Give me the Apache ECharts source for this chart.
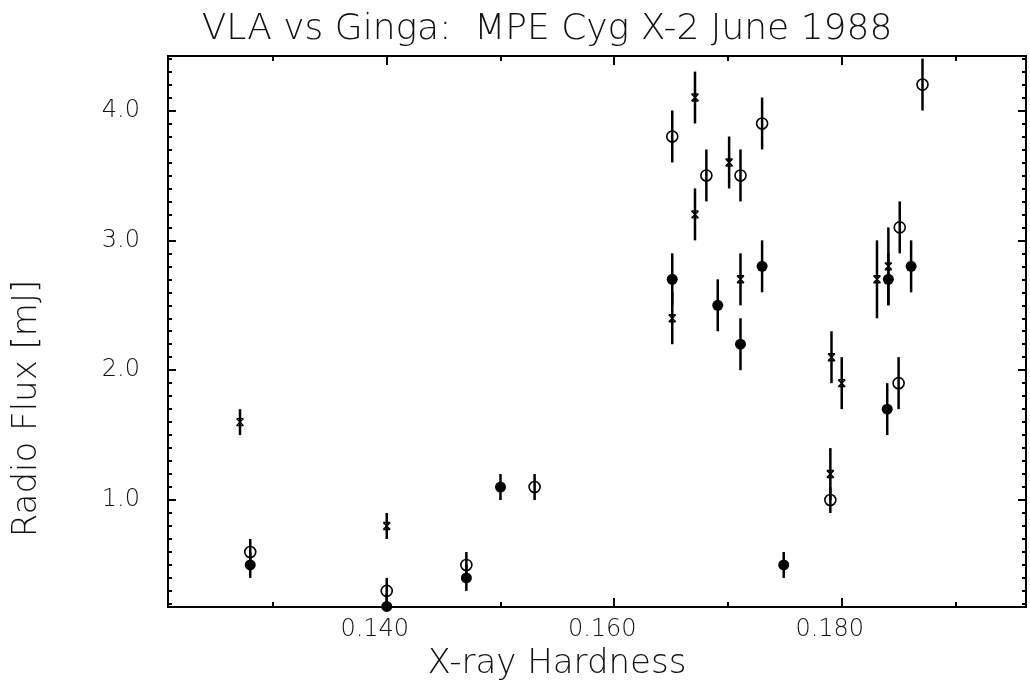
<!DOCTYPE html>
<html>
<head>
<meta charset="utf-8">
<script src="https://cdn.jsdelivr.net/npm/echarts@6/dist/echarts.min.js"></script>
<style>html,body{margin:0;padding:0;background:#fff}#c{width:1030px;height:683px}</style>
</head>
<body>
<div id="c"></div>
<script>
// Filled circles
const filledX = [0.1280, 0.1400, 0.1470, 0.1500, 0.1651, 0.1691, 0.1711, 0.1730, 0.1749, 0.1841, 0.1840, 0.1861];
const filledY = [0.5, 0.18, 0.4, 1.1, 2.7, 2.5, 2.2, 2.8, 0.5, 2.7, 1.7, 2.8];
const filledErr = [0.1, 0.1, 0.1, 0.1, 0.2, 0.2, 0.2, 0.2, 0.1, 0.2, 0.2, 0.2];
// Open circles
const openX = [0.1280, 0.1400, 0.1470, 0.1530, 0.1651, 0.1681, 0.1711, 0.1730, 0.1790, 0.1851, 0.1850, 0.1871];
const openY = [0.6, 0.3, 0.5, 1.1, 3.8, 3.5, 3.5, 3.9, 1.0, 3.1, 1.9, 4.2];
const openErr = [0.1, 0.1, 0.1, 0.1, 0.2, 0.2, 0.2, 0.2, 0.1, 0.2, 0.2, 0.2];
// Crosses
const crossX = [0.1271, 0.1400, 0.1651, 0.1671, 0.1671, 0.1701, 0.1711, 0.1791, 0.1790, 0.1800, 0.1831, 0.1841];
const crossY = [1.6, 0.8, 2.4, 4.1, 3.2, 3.6, 2.7, 2.1, 1.2, 1.9, 2.7, 2.8];
const crossErr = [0.1, 0.1, 0.2, 0.2, 0.2, 0.2, 0.2, 0.2, 0.2, 0.2, 0.3, 0.3];

// Ticks and labels
const xMajorTicks = [0.140, 0.160, 0.180];
const xMinorTicks = [0.130, 0.150, 0.170, 0.190];
const yMajorTicks = [1.0, 2.0, 3.0, 4.0];
const yMinorStep = 0.1;

const X_MIN = 0.12077, X_MAX = 0.1962;
const Y_MIN = 0.176, Y_MAX = 4.42;

const yMinorTicks = [];
for (let i = 2; i <= 44; i++) { if (i % 10 !== 0) yMinorTicks.push(+(i * yMinorStep).toFixed(1)); }

const FONT = 'DejaVu Sans';
const TXT = '#111';

function pts(xs, ys, es) { return xs.map((x, i) => [x, ys[i], es[i]]); }

function errBar(params, api) {
  const x = api.value(0), y = api.value(1), e = api.value(2);
  const p1 = api.coord([x, y - e]);
  const p2 = api.coord([x, y + e]);
  return { type: 'line', shape: { x1: p1[0], y1: p1[1], x2: p2[0], y2: p2[1] },
           style: { stroke: '#000', lineWidth: 2.5 } };
}

function xAx(pos, ticks, len, labels) {
  return {
    type: 'value', position: pos, min: X_MIN, max: X_MAX,
    axisLine: { show: false }, splitLine: { show: false },
    axisTick: { show: true, inside: true, length: len, customValues: ticks, lineStyle: { color: '#000', width: 2 } },
    axisLabel: labels ? { show: true, customValues: ticks, formatter: v => v.toFixed(3), margin: 11,
      fontFamily: FONT, fontWeight: 200, fontSize: 24, color: TXT, padding: [0, 24, 0, 0] } : { show: false }
  };
}
function yAx(pos, ticks, len, labels) {
  return {
    type: 'value', position: pos, min: Y_MIN, max: Y_MAX,
    axisLine: { show: false }, splitLine: { show: false },
    axisTick: { show: true, inside: true, length: len, customValues: ticks, lineStyle: { color: '#000', width: 2 } },
    axisLabel: labels ? { show: true, customValues: ticks, formatter: v => v.toFixed(1), margin: 28,
      fontFamily: FONT, fontWeight: 200, fontSize: 24, color: TXT } : { show: false }
  };
}

const xAxes = [xAx('bottom', xMajorTicks, 9, true), xAx('bottom', xMinorTicks, 5, false),
               xAx('top', xMajorTicks, 9, false), xAx('top', xMinorTicks, 5, false)];
Object.assign(xAxes[0], { name: 'X-ray Hardness', nameLocation: 'middle', nameGap: 36,
  nameTextStyle: { fontFamily: FONT, fontWeight: 200, fontSize: 34, color: TXT, padding: [0, 80, 0, 0] } });
const yAxes = [yAx('left', yMajorTicks, 8, true), yAx('left', yMinorTicks, 4, false),
               yAx('right', yMajorTicks, 8, false), yAx('right', yMinorTicks, 4, false)];
Object.assign(yAxes[0], { name: 'Radio Flux [mJ]', nameLocation: 'middle', nameGap: 124,
  nameTextStyle: { fontFamily: FONT, fontWeight: 200, fontSize: 34, color: TXT, padding: [0, 154, 0, 0] } });

const chart = echarts.init(document.getElementById('c'), null, { renderer: 'canvas' });
chart.setOption({
  animation: false,
  backgroundColor: '#fff',
  title: { text: 'VLA vs Ginga:  MPE Cyg X-2 June 1988', left: 542, textAlign: 'center', top: 7,
    textStyle: { fontFamily: FONT, fontWeight: 200, fontSize: 36, color: TXT } },
  grid: { left: 168, right: 4, top: 56, bottom: 76, show: true, borderColor: '#000', borderWidth: 2,
    outerBoundsMode: 'none', containLabel: false },
  xAxis: xAxes,
  yAxis: yAxes,
  series: [
    { type: 'custom', clip: true, renderItem: errBar, data: pts(filledX, filledY, filledErr) },
    { type: 'custom', clip: true, renderItem: errBar, data: pts(openX, openY, openErr) },
    { type: 'custom', clip: true, renderItem: errBar, data: pts(crossX, crossY, crossErr) },
    { type: 'scatter', clip: false, symbol: 'circle', symbolSize: 11, data: pts(filledX, filledY, filledErr),
      itemStyle: { color: '#000', opacity: 1 } },
    { type: 'scatter', symbol: 'circle', symbolSize: 11, data: pts(openX, openY, openErr),
      itemStyle: { color: 'rgba(0,0,0,0)', borderColor: '#000', borderWidth: 1.6, opacity: 1 } },
    { type: 'scatter', symbol: 'path://M0,0L10,10M10,0L0,10M0,0L10,0M0,10L10,10', symbolSize: 7, data: pts(crossX, crossY, crossErr),
      itemStyle: { color: 'rgba(0,0,0,0)', borderColor: '#000', borderWidth: 1.4, opacity: 1 } }
  ]
});
</script>
</body>
</html>
